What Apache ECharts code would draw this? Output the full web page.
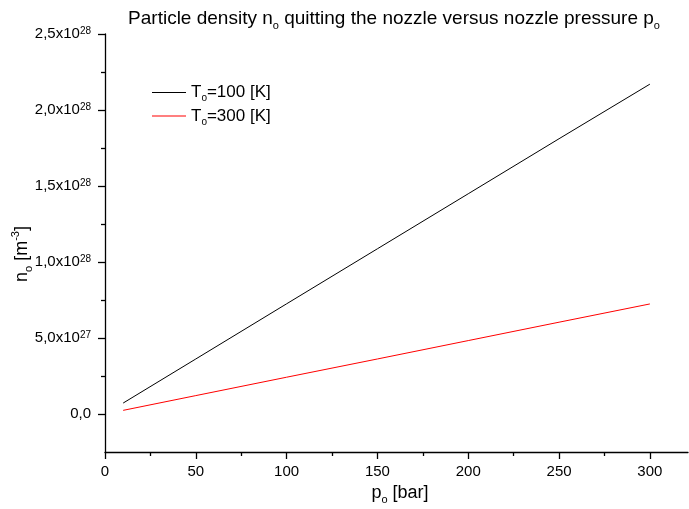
<!DOCTYPE html>
<html><head><meta charset="utf-8">
<script src="https://cdn.jsdelivr.net/npm/echarts@6/dist/echarts.min.js"></script>
<style>html,body{margin:0;padding:0;background:#fff}#c{width:689px;height:509px}</style>
</head><body><div id="c"></div>
<script>
const pressure = [10, 50, 100, 150, 200, 250, 300];
const density100K = [7.2e26, 3.62e27, 7.25e27, 1.087e28, 1.449e28, 1.811e28, 2.17e28];
const density300K = [2.4e26, 1.21e27, 2.42e27, 3.62e27, 4.83e27, 6.04e27, 7.24e27];
const xTickValues = [0, 50, 100, 150, 200, 250, 300];
const xMinorValues = [25, 75, 125, 175, 225, 275];
const yTickValues = [0, 5e27, 1e28, 1.5e28, 2e28, 2.5e28];
const yTickMantissa = ['0,0', '5,0', '1,0', '1,5', '2,0', '2,5'];
const yTickExponent = ['', '27', '28', '28', '28', '28'];
const yMinorValues = [2.5e27, 7.5e27, 1.25e28, 1.75e28, 2.25e28];
const seriesNames = ['To=100 [K]', 'To=300 [K]'];
const seriesColors = ['#000000', '#ff0000'];

const FONT = '"Liberation Sans", Arial, sans-serif';
const chart = echarts.init(document.getElementById('c'), null, {renderer: 'canvas'});

function yLabel(v) {
  let idx = 0, best = Infinity;
  yTickValues.forEach((t, i) => { const d = Math.abs(t - v); if (d < best) { best = d; idx = i; } });
  if (!yTickExponent[idx]) return '{b|' + yTickMantissa[idx] + '}';
  return '{b|' + yTickMantissa[idx] + 'x10}{e|' + yTickExponent[idx] + '}';
}

const tickStyle = {color: '#000', width: 1.3};
const axisLineStyle = {color: '#000', width: 1.3};
const yMin = -2.5e27, yMax = 2.5e28, xMin = 0, xMax = 321;

const option = {
  animation: false,
  backgroundColor: '#fff',
  grid: {left: 105, right: 1, top: 34, bottom: 57, containLabel: false},
  xAxis: [
    {
      type: 'value', min: xMin, max: xMax, position: 'bottom',
      axisLine: {show: true, onZero: false, lineStyle: axisLineStyle},
      axisTick: {show: false},
      axisLabel: {show: true, customValues: xTickValues, margin: 12, color: '#000', fontFamily: FONT, fontSize: 15},
      splitLine: {show: false}
    },
    {
      type: 'value', min: xMin, max: xMax, position: 'bottom',
      axisLine: {show: false, onZero: false},
      axisTick: {show: true, length: 7, customValues: xTickValues, lineStyle: tickStyle},
      axisLabel: {show: false},
      splitLine: {show: false}
    },
    {
      type: 'value', min: xMin, max: xMax, position: 'bottom',
      axisLine: {show: false, onZero: false},
      axisTick: {show: true, length: 4, customValues: xMinorValues, lineStyle: tickStyle},
      axisLabel: {show: false},
      splitLine: {show: false}
    }
  ],
  yAxis: [
    {
      type: 'value', min: yMin, max: yMax, position: 'left',
      axisLine: {show: true, onZero: false, lineStyle: axisLineStyle},
      axisTick: {show: true, length: 7, customValues: yTickValues, lineStyle: tickStyle},
      axisLabel: {
        show: true, customValues: yTickValues, margin: 14, color: '#000',
        formatter: yLabel,
        rich: {
          b: {fontFamily: FONT, fontSize: 15, color: '#000', lineHeight: 15, verticalAlign: 'bottom'},
          e: {fontFamily: FONT, fontSize: 10, color: '#000', lineHeight: 11, verticalAlign: 'top'}
        }
      },
      splitLine: {show: false}
    },
    {
      type: 'value', min: yMin, max: yMax, position: 'left',
      axisLine: {show: false, onZero: false},
      axisTick: {show: true, length: 4, customValues: yMinorValues, lineStyle: tickStyle},
      axisLabel: {show: false},
      splitLine: {show: false}
    }
  ],
  legend: {
    show: true, orient: 'vertical', left: 152, top: 84, padding: 0,
    icon: 'rect', itemWidth: 34, itemHeight: 1, itemGap: 4,
    data: seriesNames,
    formatter: (name) => '{t|T}{s|o}{t|' + name.slice(2) + '}',
    textStyle: {
      color: '#000',
      rich: {
        t: {fontFamily: FONT, fontSize: 17, color: '#000', lineHeight: 22},
        s: {fontFamily: FONT, fontSize: 10, color: '#000', lineHeight: 10, verticalAlign: 'bottom'}
      }
    }
  },
  graphic: [
    {
      type: 'text', x: 394, y: 19,
      style: {
        text: '{a|Particle density n}{s|o}{a| quitting the nozzle versus nozzle pressure p}{s|o}',
        align: 'center', verticalAlign: 'middle',
        rich: {
          a: {fontFamily: FONT, fontSize: 19, fill: '#000', lineHeight: 24},
          s: {fontFamily: FONT, fontSize: 11, fill: '#000', lineHeight: 11, verticalAlign: 'bottom'}
        }
      }
    },
    {
      type: 'text', x: 400, y: 493,
      style: {
        text: '{a|p}{s|o}{a| [bar]}',
        align: 'center', verticalAlign: 'middle',
        rich: {
          a: {fontFamily: FONT, fontSize: 18, fill: '#000', lineHeight: 24},
          s: {fontFamily: FONT, fontSize: 11, fill: '#000', lineHeight: 11, verticalAlign: 'bottom'}
        }
      }
    },
    {
      type: 'text', x: 22, y: 254, rotation: Math.PI / 2,
      style: {
        text: '{a|n}{s|o}{a| [m}{e|-3}{a|]}',
        align: 'center', verticalAlign: 'middle',
        rich: {
          a: {fontFamily: FONT, fontSize: 18, fill: '#000', lineHeight: 24},
          s: {fontFamily: FONT, fontSize: 11, fill: '#000', lineHeight: 11, verticalAlign: 'bottom'},
          e: {fontFamily: FONT, fontSize: 11, fill: '#000', lineHeight: 11, verticalAlign: 'top'}
        }
      }
    }
  ],
  series: [
    {
      name: seriesNames[0], type: 'line', xAxisIndex: 0, yAxisIndex: 0,
      data: pressure.map((p, i) => [p, density100K[i]]),
      showSymbol: false, symbol: 'none', smooth: false,
      lineStyle: {color: seriesColors[0], width: 1}, itemStyle: {color: seriesColors[0]}
    },
    {
      name: seriesNames[1], type: 'line', xAxisIndex: 0, yAxisIndex: 0,
      data: pressure.map((p, i) => [p, density300K[i]]),
      showSymbol: false, symbol: 'none', smooth: false,
      lineStyle: {color: seriesColors[1], width: 1}, itemStyle: {color: seriesColors[1]}
    }
  ]
};
chart.setOption(option);
</script>
</body></html>
